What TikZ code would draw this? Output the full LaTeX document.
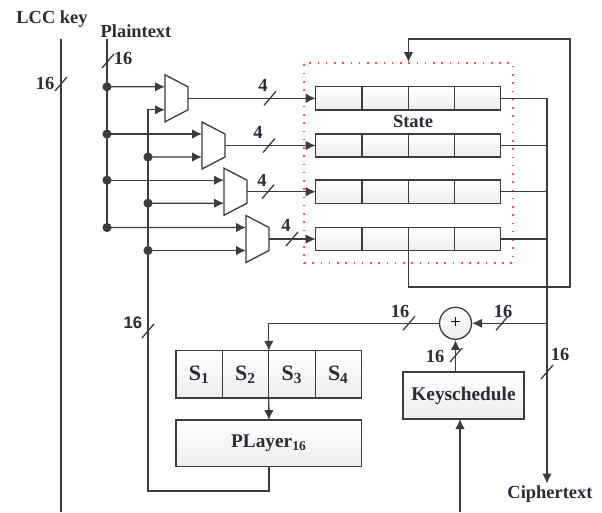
\documentclass[tikz,border=0pt]{standalone}
\usepackage{fontspec}
\setmainfont{Liberation Serif}
\setsansfont{Liberation Sans}
\usetikzlibrary{arrows.meta,calc}
\definecolor{wire}{HTML}{3C3C3C}
\definecolor{ink}{HTML}{2A2A38}
\definecolor{statered}{HTML}{FF5050}
\tikzset{
  wireline/.style={draw=wire, line width=0.75pt},
  arr/.style={-{Latex[length=2mm,width=1.9mm]}, line width=0.75pt, draw=wire},
  cellbox/.style={rectangle, draw=wire, line width=0.75pt, top color=white, bottom color=gray!14,
                  minimum width=0.925cm, minimum height=0.466cm, inner sep=0pt, outer sep=0pt},
  blockbox/.style={rectangle, draw=wire, line width=0.75pt, top color=white, bottom color=gray!14,
                   inner sep=0pt, outer sep=0pt, text=ink, font=\bfseries\fontsize{11}{13}\selectfont},
  muxbox/.style={rectangle, minimum width=0.46cm, minimum height=0.94cm, inner sep=0pt, outer sep=0pt},
  lbl/.style={font=\bfseries\fontsize{10.5}{12}\selectfont, text=ink, inner sep=1pt},
}
\newcommand{\busmark}[1]{\draw[wireline] #1 ++(-6,7) -- ++(12,-14);}

\begin{document}
\begin{tikzpicture}[x=0.02cm, y=-0.02cm]
\useasboundingbox (0,0) rectangle (602,512);
% titles
\node[lbl] (lcc) at (52,19) {LCC key};
\node[lbl] (pt) at (136,31) {Plaintext};
\node[lbl] (ct) at (550,494) {Ciphertext};
% state register
\node[rectangle, draw=statered, line width=1pt, dash pattern=on 0.9pt off 3.8pt,
      minimum width=4.18cm, minimum height=4cm] (statebox) at (408.5,163) {};
\foreach \r/\y in {1/98.3,2/145.5,3/191.7,4/239}{
  \foreach \c in {1,...,4}
    \node[cellbox] (r\r-\c) at ({315.7+46.25*(\c-0.5)},\y) {};
}
\node[lbl] (statelbl) at (413,121) {State};
% key and plaintext buses
\coordinate (ktop) at (61,39);
\coordinate (kbot) at (61,512);
\draw[wireline] (ktop) -- (kbot);
\coordinate (ptop) at (107,39);
\coordinate (pbot) at (107,227.5);
\draw[wireline] (ptop) -- (pbot);
% muxes
\foreach \i/\xl/\y in {1/165/98.3,2/202/145.5,3/224/191.7,4/246/239}{
  \node[muxbox] (m\i) at (\xl+11.5,\y) {};
  \draw[wireline] (m\i.north west) -- ($(m\i.north east)+(0,12)$) -- ($(m\i.south east)+(0,-12)$) -- (m\i.south west) -- cycle;
  \draw[arr] (107,\y-11.5) -- ($(m\i.west)+(0,-11.5)$);
  \fill[wire] (107,\y-11.5) circle (2.6pt);
  \draw[arr] (m\i.east) -- (r\i-1.west);
}
\foreach \i/\y in {2/145.5,3/191.7,4/239}{
  \draw[arr] (148,\y+11.5) -- ($(m\i.west)+(0,11.5)$);
  \fill[wire] (148,\y+11.5) circle (2.6pt);
}
% outputs
\coordinate (cbus) at (547,98.3);
\foreach \r/\y in {1/98.3,2/145.5,3/191.7,4/239}
  \draw[wireline] (r\r-4.east) -- (547,\y);
\draw[arr] (cbus) -- (cbus |- ct.north);
\draw[arr] (r4-2.south east) |- (570,287) -- (570,39) -| (statebox.north);
% round
\node[circle, draw=wire, line width=0.75pt, top color=white, bottom color=gray!14,
      minimum size=0.64cm, inner sep=0pt] (xr) at (455.5,323.3) {\fontsize{11}{12}\selectfont +};
\foreach \s in {1,...,4}
  \node[blockbox, minimum width=0.928cm, minimum height=0.946cm, font=\bfseries\fontsize{12.5}{14}\selectfont]
    (s\s) at ({176+46.4*(\s-0.5)},374.4) {S\textsubscript{\s}};
\node[blockbox, minimum width=3.714cm, minimum height=0.934cm] (player) at (268.9,443.4) {PLayer\textsubscript{16}};
\node[blockbox, minimum width=2.42cm, minimum height=0.94cm] (ks) at (463.5,395.5) {Keyschedule};
\draw[arr] (cbus |- xr.east) -- (xr.east);
\draw[arr] (xr.west) -| (s2.north east);
\draw[arr] (s2.south east) -- (player.north);
\draw[arr] (xr.south |- ks.north) -- (xr.south);
\coordinate (kin) at (460,512);
\draw[arr] (kin) -- (kin |- ks.south);
\draw[arr] (player.south) |- (148,491) -- (148,109.8) -- ($(m1.west)+(0,11.5)$);
% bus widths
\busmark{(61,84)}
\node[lbl] (w1) at (45,83) {16};
\busmark{(108,61)}
\node[lbl] (w2) at (123,58) {16};
\busmark{(270,98.3)}
\node[lbl] (w3) at (263,85) {4};
\busmark{(269,145.5)}
\node[lbl] (w4) at (258,132) {4};
\busmark{(268,191.7)}
\node[lbl] (w5) at (262,180) {4};
\busmark{(292,239)}
\node[lbl] (w6) at (286,225) {4};
\busmark{(148,331)}
\node[lbl, font=\sffamily\bfseries\fontsize{9.5}{11}\selectfont] (w7) at (133,323) {16};
\busmark{(409,323.3)}
\node[lbl] (w8) at (400,311) {16};
\busmark{(502,323.3)}
\node[lbl] (w9) at (503,311) {16};
\busmark{(456,355)}
\node[lbl] (w10) at (435,356) {16};
\busmark{(547,372)}
\node[lbl] (w11) at (560,354) {16};
\end{tikzpicture}
\end{document}
